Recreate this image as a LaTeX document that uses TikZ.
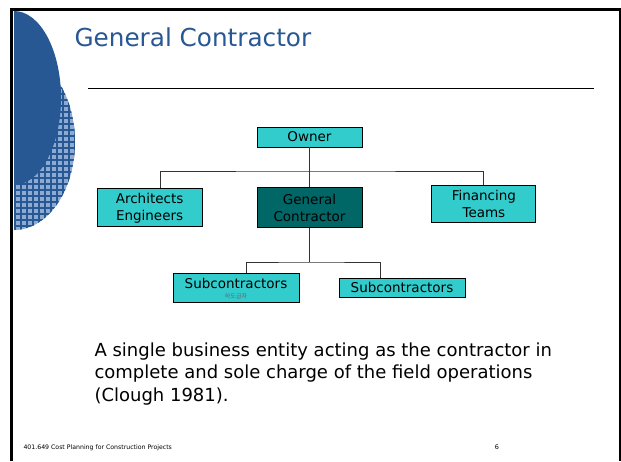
\documentclass[tikz,border=0pt]{standalone}
\usepackage{fontspec}
\setmainfont{DejaVu Sans}
\newfontfamily\krfont{Noto Sans CJK KR}
\usetikzlibrary{positioning}
\definecolor{slideblue}{RGB}{40,88,148}
\definecolor{hatchblue}{RGB}{140,170,210}
\definecolor{boxcyan}{RGB}{51,204,204}
\definecolor{boxteal}{RGB}{0,102,102}
\tikzset{orgbox/.style={
        draw=black,
        fill=boxcyan,
        line width=0.9pt,
        inner sep=0pt,
        align=center,
        font=\fontsize{13.5}{17}\selectfont } }
\tikzset{link/.style={
    draw=black!80,
    line width=0.9pt } }

\begin{document}
\begin{tikzpicture}[x=1pt,y=-1pt] %pixel coordinates

\useasboundingbox (0,0) rectangle (621,461);
\fill[white] (0,0) rectangle (621,461);

% side decoration
\begin{scope}
\clip (14,11) rectangle (200,461);
\fill[hatchblue] (14,142) ellipse [x radius=61, y radius=88];
\begin{scope}
\clip (14,142) ellipse [x radius=61, y radius=88];
\foreach \k in {15,21,...,80} {\draw[slideblue,line width=1.2pt] (\k,50) -- (\k,235);}
\foreach \k in {52,58,...,235} {\draw[slideblue,line width=1.2pt] (10,\k) -- (80,\k);}
\end{scope}
\fill[slideblue] (14,98) ellipse [x radius=47, y radius=87];
\end{scope}

% frame
\draw[line width=3pt] (11.5,461) -- (11.5,9.5) -- (620,9.5) -- (620,461);

\node[anchor=west,text=slideblue,font=\fontsize{24.7}{28}\selectfont] (title) at (71,37) {General Contractor};
\draw[line width=1pt] (88,88) -- (594,88);

\node[orgbox, minimum width=105pt, minimum height=20pt] (owner) at (309.5,137) {Owner};
\node[orgbox, fill=boxteal, minimum width=105pt, minimum height=40pt] (gc) 
[below = 40pt of owner] {General\\Contractor};
\node[orgbox, minimum width=105pt, minimum height=38pt] (arch) 
[left = 54pt of gc] {Architects\\Engineers};
\node[orgbox, minimum width=104pt, minimum height=37pt] (fin) 
[right = 69pt of gc, yshift=3.5pt] {Financing\\Teams};

\node[orgbox, minimum width=126pt, minimum height=29pt] (sub1) at (236,287.5) {};
\node[font=\fontsize{13.5}{16}\selectfont] (sub1text) at (236,283) {Subcontractors};
\node[font=\krfont\fontsize{6}{7}\selectfont, text=black!60] (sub1kr) at (236,296) {하도급자};
\node[orgbox, minimum width=126pt, minimum height=19pt] (sub2) at (402,287.5) {};
\node[font=\fontsize{13.5}{16}\selectfont] (sub2text) at (402,287.5) {Subcontractors};

\coordinate (bus) at (309.5,171);
\coordinate (subbus) at (309.5,262);

\path[link]
(owner.south) -- (gc.north)
([xshift=11pt]arch.north) |- (bus) -| (fin.north)
(gc.south) -- (subbus)
([xshift=10pt]sub1.north) |- (subbus) -| ([xshift=-22pt]sub2.north)
;

\node[anchor=north west, align=left, font=\fontsize{18}{22.5}\selectfont] (note) at (91,339) 
{A single business entity acting as the contractor in\\complete and sole charge of the field operations\\(Clough 1981).};

\node[anchor=west, font=\fontsize{6.2}{8}\selectfont] (footer) at (20,448) {401.649 Cost Planning for Construction Projects};
\node[font=\fontsize{6.5}{8}\selectfont] (pagenum) at (497,447) {6};

\end{tikzpicture}
\end{document}
